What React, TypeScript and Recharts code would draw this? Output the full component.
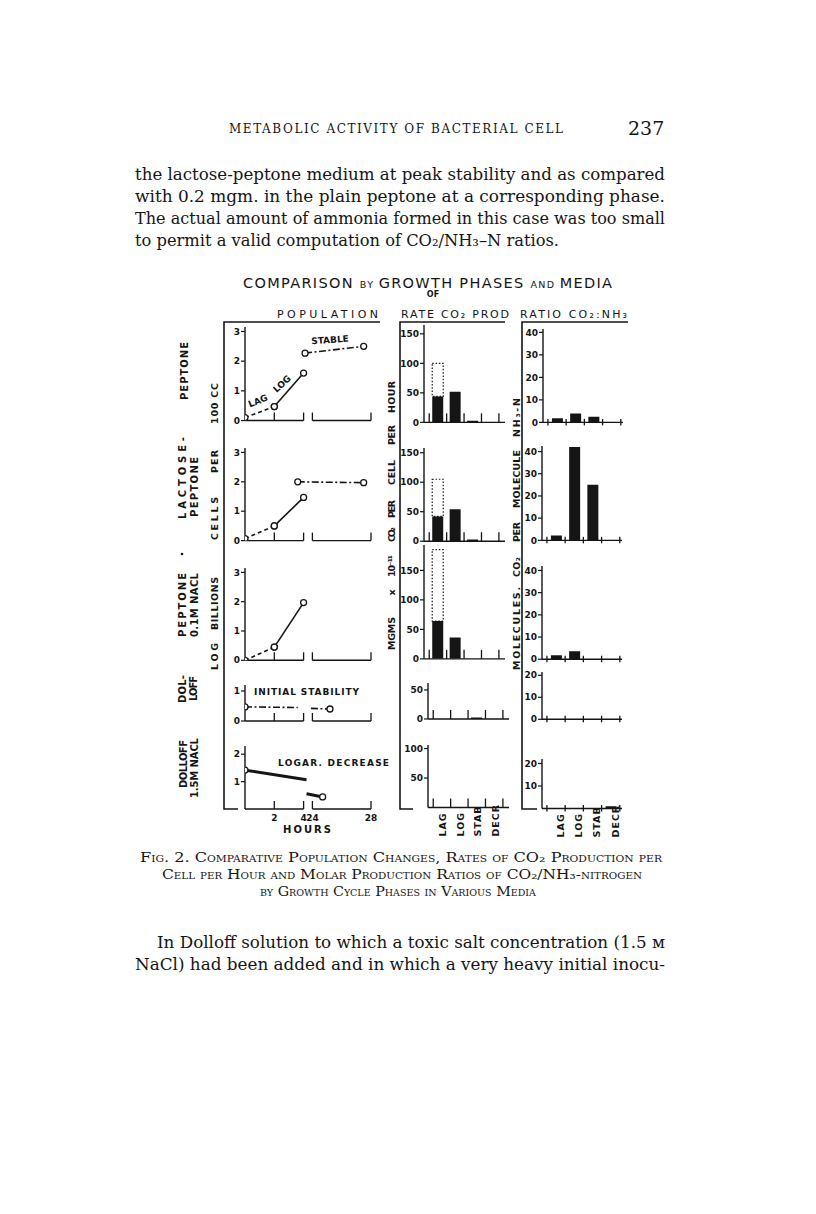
import React from "react";
import { LineChart, Line, BarChart, Bar, XAxis, YAxis, ReferenceLine, Label } from "recharts";

const INK = "#151515";
const SANS = "'DejaVu Sans', 'Liberation Sans', sans-serif";
const SERIF = "'DejaVu Serif', 'Liberation Serif', serif";

// ---------- data ----------
const phases = ["LAG", "LOG", "STAB", "DECR"];

// mgm x 10^-11 CO2 per cell per hour
const ratePeptone = [44, 52, 2.5, 0];
const rateLactose = [42, 54, 3, 0];
const rateNacl01 = [64, 36, 0, 0];
const rateDolloff = [0, 0, 2.5, 0];
const rateNacl15 = [0, 0, 0, 1];
// dotted upper limit of the lag bar (peptone, lactose-peptone, 0.1M NaCl)
const rateLagUpper = [100, 105, 185];

// molecules CO2 per molecule NH3-N
const ratioPeptone = [1.8, 4, 2.5, 0];
const ratioLactose = [2.2, 42, 25, 0];
const ratioNacl01 = [1.8, 3.6, 0, 0];
const ratioDolloff = [0, 0, 0, 0];
const ratioNacl15 = [0, 0, 0, 1];

// population: [hours, log billions cells per 100 cc, open circle]
const hourTicks = [0, 2, 4, 24, 28];
const hourLabels = ["", "2", "4", "24", "28"];
const peptoneLag = [[0, 0.1, 1], [2, 0.47, 1]];
const peptoneLog = [[2, 0.47, 1], [4, 1.6, 1]];
const peptoneStable = [[23.5, 2.27, 1], [27.5, 2.5, 1]];
const lactoseLag = [[0, 0.07, 1], [2, 0.5, 1]];
const lactoseLog = [[2, 0.5, 1], [4, 1.47, 1]];
const lactoseStable = [[23, 2.0, 1], [27.5, 1.97, 1]];
const nacl01Lag = [[0, 0, 1], [2, 0.45, 1]];
const nacl01Log = [[2, 0.45, 1], [4, 1.97, 1]];
const dolloffStableA = [[0, 0.47, 1], [3.6, 0.45, 0]];
const dolloffStableB = [[23.9, 0.42, 0], [25.2, 0.4, 1]];
const nacl15DecrA = [[0, 1.42, 1], [4.2, 1.07, 0]];
const nacl15DecrB = [[23.6, 0.56, 0], [24.7, 0.44, 1]];

// ---------- layout ----------
const tickFont = { fontSize: 9, fontWeight: 700, fill: INK, fontFamily: SANS };
const YW = 26;
const MT = 6;
const MR = 6;

// broken hour axis: 0-4 h, gap, 24-28 h
const brk = (h: number) => (h > 12 ? h - 19.4 : h);
const hourDomain = [0, brk(28)];
const POP_LEFT = 245;
const POP_W = 126;

const DASH = "4 3";
const DASHDOT = "7 2.5 2 2.5";

function PopTick(props: any) {
  const { x, y, payload, index, showLabels } = props;
  const lbl = hourLabels[index];
  return (
    <g>
      {payload.value > 0 && <line x1={x} x2={x} y1={y} y2={y - 8} stroke={INK} strokeWidth={1.3} />}
      {showLabels && lbl ? (
        <text x={x} y={y + 12} textAnchor="middle" style={tickFont}>
          {lbl}
        </text>
      ) : null}
    </g>
  );
}

const renderDot = (p: any) => {
  const { cx, cy, payload, index } = p;
  if (!payload || !payload.c) return <g key={`n${index}`} />;
  return <circle key={`c${index}`} cx={cx} cy={cy} r={3} fill="#fff" stroke={INK} strokeWidth={1.3} />;
};

type Seg = { pts: number[][]; dash?: string; w?: number };

function PopPanel({ y0, k, ymax, yTicks, segs, bottom }: { y0: number; k: number; ymax: number; yTicks: number[]; segs: Seg[]; bottom?: boolean }) {
  const plotH = ymax * k;
  const xh = bottom ? 30 : 9;
  return (
    <div style={{ position: "absolute", left: POP_LEFT - YW, top: y0 - plotH - MT }}>
      <LineChart width={POP_W + YW + MR} height={plotH + MT + xh} margin={{ top: MT, right: MR, bottom: 0, left: 0 }}>
        <XAxis
          type="number"
          dataKey="x"
          domain={hourDomain}
          ticks={hourTicks.map(brk)}
          interval={0}
          allowDataOverflow
          axisLine={false}
          tickLine={false}
          tickSize={0}
          tickMargin={0}
          height={xh}
          tick={<PopTick showLabels={bottom} />}
        >
          {bottom && (
            <Label value="HOURS" position="insideBottom" offset={6} style={{ fontSize: 10, fontWeight: 700, fill: INK, fontFamily: SANS, letterSpacing: 2 }} />
          )}
        </XAxis>
        <YAxis
          type="number"
          domain={[0, ymax]}
          ticks={yTicks}
          interval={0}
          allowDataOverflow
          width={YW}
          tickSize={4}
          tickMargin={1}
          axisLine={{ stroke: INK, strokeWidth: 1.4 }}
          tickLine={{ stroke: INK, strokeWidth: 1.2 }}
          tick={tickFont}
        />
        <ReferenceLine ifOverflow="visible" segment={[{ x: 0, y: 0 }, { x: 4, y: 0 }]} stroke={INK} strokeWidth={1.4} />
        <ReferenceLine ifOverflow="visible" segment={[{ x: brk(24), y: 0 }, { x: brk(28), y: 0 }]} stroke={INK} strokeWidth={1.4} />
        {segs.map((s, i) => (
          <Line
            key={i}
            type="linear"
            data={s.pts.map(([h, v, c]) => ({ x: brk(h), y: v, c }))}
            dataKey="y"
            stroke={INK}
            strokeWidth={s.w ?? 1.6}
            strokeDasharray={s.dash}
            dot={renderDot}
            activeDot={false}
            isAnimationActive={false}
          />
        ))}
      </LineChart>
    </div>
  );
}

const barTicks = [0, 0.5, 1, 1.5, 2, 2.5, 3, 3.5, 4];

function BarTick(props: any) {
  const { x, y, payload, cross, showLabels, shift } = props;
  const v = payload.value;
  if (Number.isInteger(v)) {
    return cross ? (
      <line x1={x} x2={x} y1={y - 3.5} y2={y + 3} stroke={INK} strokeWidth={1.3} />
    ) : (
      <line x1={x} x2={x} y1={y} y2={y - 9} stroke={INK} strokeWidth={1.3} />
    );
  }
  if (!showLabels) return <g />;
  return (
    <text
      transform={`translate(${x + shift},${y + 29}) rotate(-90)`}
      textAnchor="start"
      dominantBaseline="central"
      style={{ ...tickFont, fontSize: 9.5, letterSpacing: 1 }}
    >
      {phases[Math.floor(v)]}
    </text>
  );
}

function BarPanel({ left, y0, k, ymax, yTicks, values, upper, ratio, bottom }: { left: number; y0: number; k: number; ymax: number; yTicks: number[]; values: number[]; upper?: number; ratio?: boolean; bottom?: boolean }) {
  const dom = ratio ? [-0.27, 4.12] : [-0.3, 4.35];
  const plotW = ratio ? 80 : 81;
  const plotH = ymax * k;
  const xh = bottom ? 32 : 9;
  const rows = phases.map((p, i) => ({
    phase: p,
    pos: i + 0.5,
    solid: values[i],
    upper: i === 0 && upper ? upper - values[0] : null,
  }));
  return (
    <div style={{ position: "absolute", left: left - YW, top: y0 - plotH - MT }}>
      <BarChart width={plotW + YW + MR} height={plotH + MT + xh} margin={{ top: MT, right: MR, bottom: 0, left: 0 }} data={rows}>
        <XAxis
          type="number"
          dataKey="pos"
          domain={dom}
          ticks={barTicks}
          interval={0}
          allowDataOverflow
          tickLine={false}
          tickSize={0}
          tickMargin={0}
          axisLine={{ stroke: INK, strokeWidth: 1.4 }}
          height={xh}
          tick={<BarTick cross={ratio} showLabels={bottom} shift={ratio ? 4.5 : 1} />}
        />
        <YAxis
          type="number"
          domain={[0, ymax]}
          ticks={yTicks}
          interval={0}
          allowDataOverflow
          width={YW}
          tickSize={4}
          tickMargin={1}
          axisLine={{ stroke: INK, strokeWidth: 1.4 }}
          tickLine={{ stroke: INK, strokeWidth: 1.2 }}
          tick={tickFont}
        />
        <Bar dataKey="solid" stackId="s" fill={INK} barSize={11} isAnimationActive={false} />
        {upper ? (
          <Bar dataKey="upper" stackId="s" fill="none" stroke={INK} strokeWidth={1.2} strokeDasharray="1.5 1.8" barSize={11} isAnimationActive={false} />
        ) : null}
      </BarChart>
    </div>
  );
}

// vertical (rotated) words: [text, x, yTop, yBottom]
function VWords({ words, size = 9.5 }: { words: (string | number)[][]; size?: number }) {
  return (
    <>
      {words.map(([t, x, y1, y2], i) => {
        const yc = ((y1 as number) + (y2 as number)) / 2;
        const len = (y2 as number) - (y1 as number);
        const s = String(t);
        return (
          <text
            key={i}
            transform={`translate(${x},${yc}) rotate(-90)`}
            textAnchor="middle"
            dominantBaseline="central"
            {...(s.length > 1 ? { textLength: len, lengthAdjust: "spacing" } : {})}
            style={{ fontFamily: SANS, fontSize: size, fontWeight: 700, fill: INK }}
          >
            {s}
          </text>
        );
      })}
    </>
  );
}

const bodyLines: [string, number][] = [
  ["the lactose-peptone medium at peak stability and as compared", 530],
  ["with 0.2 mgm. in the plain peptone at a corresponding phase.", 530],
  ["The actual amount of ammonia formed in this case was too small", 530],
  ["to permit a valid computation of CO₂/NH₃–N ratios.", 424],
];

const captionLines: [string, number, number][] = [
  ["Fig. 2. Comparative Population Changes, Rates of CO₂ Production per", 140, 522],
  ["Cell per Hour and Molar Production Ratios of CO₂/NH₃-nitrogen", 162, 480],
  ["by Growth Cycle Phases in Various Media", 260, 276],
];

export default function App() {
  const serif = { fontFamily: SERIF, fill: INK };
  const sans = { fontFamily: SANS, fill: INK };
  return (
    <div style={{ position: "absolute", left: 0, top: 0, width: 816, height: 1214, background: "#fff", overflow: "hidden" }}>
      <svg width={816} height={1214} style={{ position: "absolute", left: 0, top: 0 }}>
        {/* running head */}
        <text x={229} y={132.5} textLength={334} lengthAdjust="spacing" style={{ ...serif, fontSize: 12 }}>
          METABOLIC ACTIVITY OF BACTERIAL CELL
        </text>
        <text x={628} y={135} style={{ ...serif, fontSize: 19 }}>237</text>

        {bodyLines.map(([l, w], i) => (
          <text key={i} x={135} y={180 + i * 22} textLength={w} lengthAdjust="spacingAndGlyphs" style={{ ...serif, fontSize: 17 }}>
            {l}
          </text>
        ))}

        {/* figure title */}
        <text x={243} y={287.5} textLength={369} lengthAdjust="spacing" style={sans}>
          <tspan fontSize={14.5}>COMPARISON </tspan>
          <tspan fontSize={9.5}>BY </tspan>
          <tspan fontSize={14.5}>GROWTH PHASES </tspan>
          <tspan fontSize={9.5}>AND </tspan>
          <tspan fontSize={14.5}>MEDIA</tspan>
        </text>
        <text x={433} y={297} textAnchor="middle" style={{ ...sans, fontSize: 8, fontWeight: 700 }}>OF</text>

        <text x={277} y={317.5} textLength={101} lengthAdjust="spacing" style={{ ...sans, fontSize: 11 }}>POPULATION</text>
        <text x={401} y={317.5} textLength={108} lengthAdjust="spacing" style={{ ...sans, fontSize: 11 }}>RATE CO₂ PROD</text>
        <text x={520} y={317.5} textLength={107} lengthAdjust="spacing" style={{ ...sans, fontSize: 11 }}>RATIO CO₂:NH₃</text>

        {/* column frames */}
        <g stroke={INK} strokeWidth={1.6} fill="none">
          <polyline points="380,322 224,322 224,809 238,809" />
          <polyline points="505,322 400,322 400,809 413,809" />
          <polyline points="628,322 522,322 522,809 537,809" />
        </g>

        {/* row labels */}
        <VWords
          size={10}
          words={[
            ["PEPTONE", 184, 342, 400],
            ["LACTOSE-", 182, 437, 519],
            ["PEPTONE", 194, 457, 517],
            ["PEPTONE", 182, 573, 637],
            ["0.1M NACL", 194, 573, 637],
            ["DOL-", 182, 675, 703],
            ["LOFF", 193, 676, 701],
            ["DOLLOFF", 183, 740, 788],
            ["1.5M NACL", 194, 738, 798],
          ]}
        />
        <circle cx={182} cy={554} r={1.3} fill={INK} />

        {/* axis titles */}
        <VWords
          words={[
            ["LOG", 214, 643, 670],
            ["BILLIONS", 214, 577, 630],
            ["CELLS", 214, 497, 540],
            ["PER", 214, 450, 473],
            ["100 CC", 214, 383, 424],
            ["MGMS", 391, 617, 650],
            ["x", 391, 589, 596],
            ["10⁻¹¹", 391, 555, 577],
            ["CO₂", 391, 527, 542],
            ["PER", 391, 500, 518],
            ["CELL", 391, 460, 485],
            ["PER", 391, 425, 445],
            ["HOUR", 391, 381, 413],
            ["MOLECULES.", 516, 587, 670],
            ["CO₂", 516, 557, 577],
            ["PER", 516, 522, 542],
            ["MOLECULE", 516, 450, 508],
            ["NH₃-N", 516, 398, 437],
          ]}
        />

        {/* phase annotations in the population panels */}
        <g style={{ ...sans, fontSize: 9, fontWeight: 700 }}>
          <text transform="translate(258,401) rotate(-22)" textAnchor="middle" dominantBaseline="central">LAG</text>
          <text transform="translate(282,384) rotate(-42)" textAnchor="middle" dominantBaseline="central">LOG</text>
          <text transform="translate(330,340) rotate(-4)" textAnchor="middle" dominantBaseline="central">STABLE</text>
          <text x={254} y={692} dominantBaseline="central" textLength={105} lengthAdjust="spacing">INITIAL STABILITY</text>
          <text x={278} y={763} dominantBaseline="central" textLength={111} lengthAdjust="spacing">LOGAR. DECREASE</text>
        </g>

        {/* caption */}
        {captionLines.map(([l, x, w], i) => (
          <text key={i} x={x} y={862 + i * 17} textLength={w} lengthAdjust="spacingAndGlyphs" style={{ ...serif, fontSize: 13.5, fontVariant: "small-caps" }}>
            {l}
          </text>
        ))}

        <text x={157} y={948} textLength={508} lengthAdjust="spacingAndGlyphs" style={{ ...serif, fontSize: 17 }}>
          In Dolloff solution to which a toxic salt concentration (1.5 ᴍ
        </text>
        <text x={135} y={970} textLength={530} lengthAdjust="spacingAndGlyphs" style={{ ...serif, fontSize: 17 }}>
          NaCl) had been added and in which a very heavy initial inocu-
        </text>
      </svg>

      {/* population */}
      <PopPanel y0={421} k={29.7} ymax={3.15} yTicks={[0, 1, 2, 3]} segs={[{ pts: peptoneLag, dash: DASH }, { pts: peptoneLog }, { pts: peptoneStable, dash: DASHDOT }]} />
      <PopPanel y0={541} k={29.4} ymax={3.15} yTicks={[0, 1, 2, 3]} segs={[{ pts: lactoseLag, dash: DASH }, { pts: lactoseLog }, { pts: lactoseStable, dash: DASHDOT }]} />
      <PopPanel y0={660} k={29.3} ymax={3.15} yTicks={[0, 1, 2, 3]} segs={[{ pts: nacl01Lag, dash: DASH }, { pts: nacl01Log }]} />
      <PopPanel y0={721} k={30} ymax={1.2} yTicks={[0, 1]} segs={[{ pts: dolloffStableA, dash: DASHDOT }, { pts: dolloffStableB, dash: DASHDOT }]} />
      <PopPanel y0={809} k={27.4} ymax={2.3} yTicks={[1, 2]} segs={[{ pts: nacl15DecrA, w: 3 }, { pts: nacl15DecrB, w: 3 }]} bottom />

      {/* rate of CO2 production */}
      <BarPanel left={424} y0={422} k={0.59} ymax={165} yTicks={[0, 50, 100, 150]} values={ratePeptone} upper={rateLagUpper[0]} />
      <BarPanel left={424} y0={541} k={0.59} ymax={158} yTicks={[0, 50, 100, 150]} values={rateLactose} upper={rateLagUpper[1]} />
      <BarPanel left={424} y0={659} k={0.59} ymax={193} yTicks={[0, 50, 100, 150]} values={rateNacl01} upper={rateLagUpper[2]} />
      <BarPanel left={428} y0={719} k={0.58} ymax={62} yTicks={[0, 50]} values={rateDolloff} />
      <BarPanel left={428} y0={808} k={0.59} ymax={106} yTicks={[50, 100]} values={rateNacl15} bottom />

      {/* ratio CO2 : NH3 */}
      <BarPanel ratio left={543} y0={422} k={2.25} ymax={41.5} yTicks={[0, 10, 20, 30, 40]} values={ratioPeptone} />
      <BarPanel ratio left={542} y0={540} k={2.22} ymax={42.5} yTicks={[0, 10, 20, 30, 40]} values={ratioLactose} />
      <BarPanel ratio left={542} y0={659} k={2.22} ymax={42} yTicks={[0, 10, 20, 30, 40]} values={ratioNacl01} />
      <BarPanel ratio left={542} y0={719} k={2.2} ymax={21.5} yTicks={[0, 10, 20]} values={ratioDolloff} />
      <BarPanel ratio left={542} y0={808} k={2.25} ymax={22} yTicks={[10, 20]} values={ratioNacl15} bottom />
    </div>
  );
}
